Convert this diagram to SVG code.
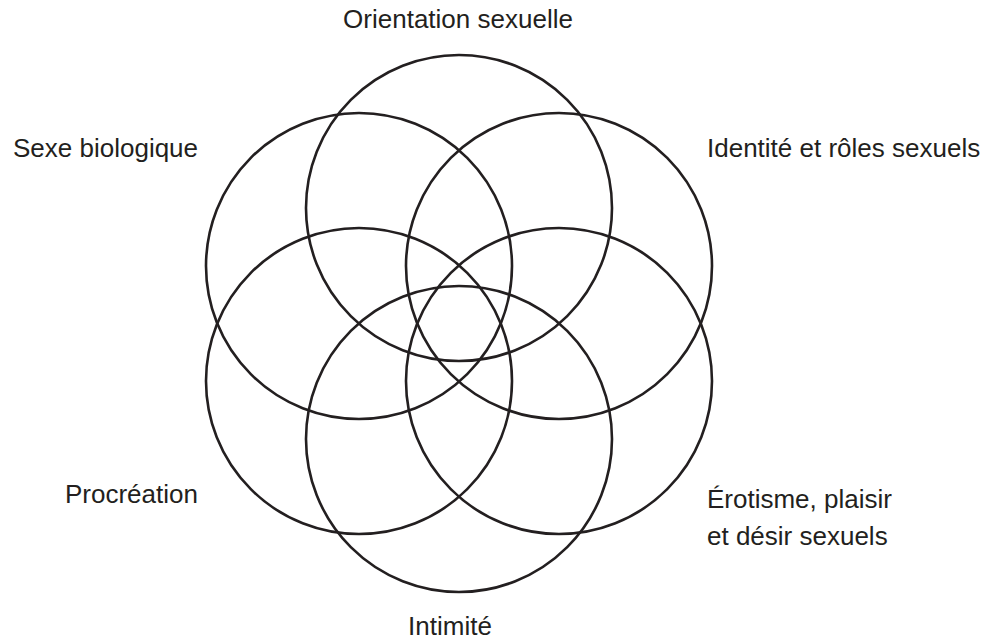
<svg xmlns="http://www.w3.org/2000/svg" width="992" height="642" viewBox="0 0 992 642">
<style>
.c{fill:none;stroke:#231f20;stroke-width:2.6}
.t{font-family:"Liberation Sans",Arial,sans-serif;font-size:26px;fill:#231f20}
</style>
<rect width="992" height="642" fill="#fff"/>
<g id="orientation"><circle class="c" cx="459" cy="208" r="153"/><text class="t" x="458" y="28" text-anchor="middle">Orientation sexuelle</text></g>
<g id="sexe"><circle class="c" cx="359" cy="266" r="153"/><text class="t" x="13" y="157">Sexe biologique</text></g>
<g id="identite"><circle class="c" cx="559" cy="266" r="153"/><text class="t" x="707" y="157">Identité et rôles sexuels</text></g>
<g id="procreation"><circle class="c" cx="359" cy="381" r="153"/><text class="t" x="65" y="503">Procréation</text></g>
<g id="erotisme"><circle class="c" cx="559" cy="381" r="153"/><text class="t" x="707" y="508">Érotisme, plaisir</text><text class="t" x="707" y="545">et désir sexuels</text></g>
<g id="intimite"><circle class="c" cx="459" cy="439" r="153"/><text class="t" x="450" y="635" text-anchor="middle">Intimité</text></g>
<g id="connectors"></g>
</svg>
